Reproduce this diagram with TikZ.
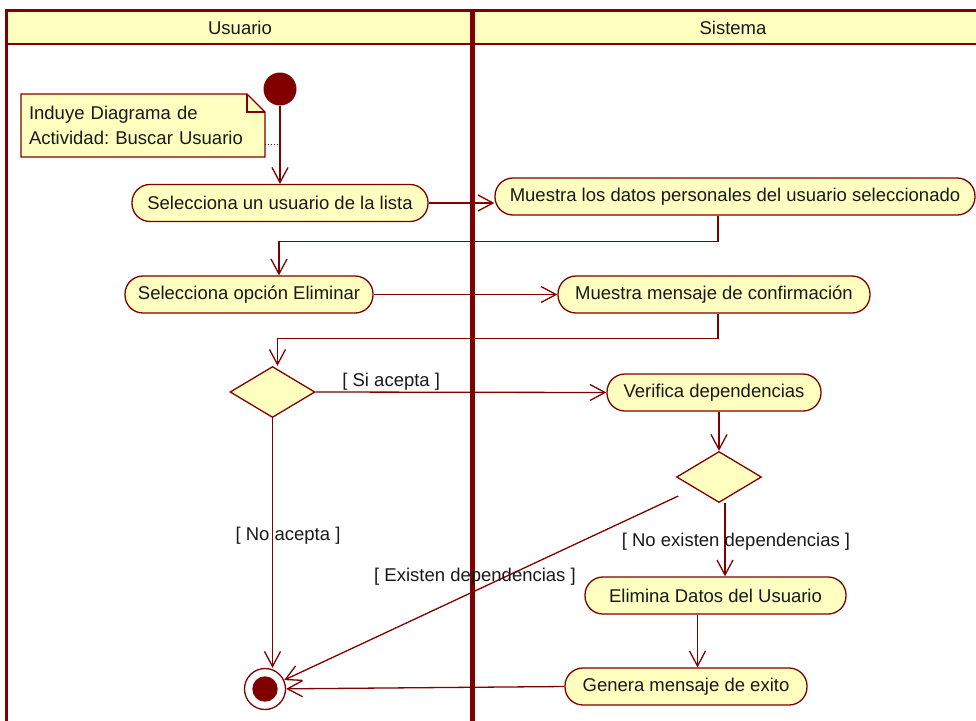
\documentclass[tikz,border=0pt]{standalone}
\usepackage{fontspec}
\setmainfont{Liberation Sans}
\usetikzlibrary{arrows.meta,shapes.geometric}
\definecolor{umlred}{HTML}{800000}
\definecolor{umlfill}{HTML}{FFFFC0}
\frenchspacing
\tikzset{
  every node/.append style={font=\fontsize{18.5}{25}\selectfont, text=black!90},
  activity/.style={draw=umlred, line width=1.3pt, fill=umlfill, rounded corners=18pt,
    minimum height=37pt, inner sep=0pt},
  decision/.style={diamond, draw=umlred, line width=1.3pt, fill=umlfill,
    minimum width=85pt, minimum height=51pt, inner sep=0pt},
  flow/.style={draw=umlred, line width=1.3pt, -{Straight Barb[length=15pt,width=16pt]}},
  guard/.style={inner sep=1pt},
  notebox/.style={draw=umlred, line width=1.3pt, fill=umlfill}
}
\begin{document}
\begin{tikzpicture}[x=1pt,y=-1pt]
  \useasboundingbox (0,0) rectangle (976,720);
  \clip (0,0) rectangle (976,720);
  % swimlanes
  \fill [umlfill] (6,10) rectangle (994,44);
  \draw [umlred, line width=2.5pt] (6,44) -- (994,44);
  \draw [umlred, line width=3pt] (994,10) -- (6,10) -- (6,730);
  \draw [umlred, line width=5pt] (472,10) -- (472,730);
  \node (usuario) at (240,28) {Usuario};
  \node (sistema) at (733,28) {Sistema};
  % note
  \draw [notebox] (21,94) -- (247,94) -- (265,112) -- (265,157) -- (21,157) -- cycle;
  \draw [umlred, line width=1.3pt] (247,94) -- (247,112) -- (265,112);
  \node [minimum width=244pt, minimum height=63pt, text width=228pt, inner xsep=8pt,
    align=left] (note) at (143,125.5) {Induye Diagrama de\\Actividad: Buscar Usuario};
  % actions
  \node [circle, fill=umlred, minimum size=33pt, inner sep=0pt] (start) at (280,89) {};
  \node [activity, minimum width=296pt] (selusuario) at (280,203) {Selecciona un usuario de la lista};
  \node [activity, minimum width=480pt] (muestradatos) at (735,196.5) {Muestra los datos personales del usuario seleccionado};
  \node [activity, minimum width=248pt] (seleliminar) at (249,294.5) {Selecciona opción Eliminar};
  \node [activity, minimum width=312pt] (confirmacion) at (714,294.5) {Muestra mensaje de confirmación};
  \node [decision] (acepta) at (272.5,392) {};
  \node [activity, minimum width=214pt] (verifica) at (714,392.5) {Verifica dependencias};
  \node [decision] (existen) at (719,477) {};
  \node [activity, minimum width=261pt] (elimina) at (715.5,595.5) {Elimina Datos del Usuario};
  \node [activity, minimum width=242pt] (exito) at (686,686.5) {Genera mensaje de exito};
  \node [circle, draw=umlred, line width=1.3pt, fill=white, minimum size=41pt, inner sep=0pt] (final) at (265,689) {};
  \fill [umlred] (final.center) circle (12.7);
  % flows
  \coordinate (link) at (279,144);
  \draw [umlred, dotted, line width=1pt] (note.east |- link) -- (link);
  \draw [flow] (start) -- (selusuario);
  \draw [flow] (selusuario.east) -- (selusuario.east -| muestradatos.west);
  \draw [flow] ([xshift=-17pt]muestradatos.south) -- ++(0,26) -| ([xshift=30pt]seleliminar.north);
  \draw [flow] (seleliminar) -- (confirmacion);
  \draw [flow] ([xshift=4pt]confirmacion.south) -- ++(0,25) -| ([xshift=5pt]acepta.north);
  \draw [flow] (acepta.east) -- (verifica.west)
    node [guard, above, pos=0.26] (siacepta) {[ Si acepta ]};
  \draw [flow] (verifica.south -| existen.north) -- (existen.north);
  \draw [flow] ([xshift=6pt]existen.south) -- ([xshift=6pt]existen.south |- elimina.north);
  \node [guard] (noexisten) at (736,542) {[ No existen dependencias ]};
  \draw [flow] ([xshift=-18pt]elimina.south) -- ([xshift=-18pt]elimina.south |- exito.north);
  \draw [flow] (exito.west) -- (final);
  \draw [flow] (acepta.south) -- (acepta.south |- final.north);
  \node [guard] (noacepta) at (288,536) {[ No acepta ]};
  \draw [flow, shorten <=45pt] (existen.center) -- (final);
  \node [guard] (existendep) at (475,577) {[ Existen dependencias ]};
\end{tikzpicture}
\end{document}
